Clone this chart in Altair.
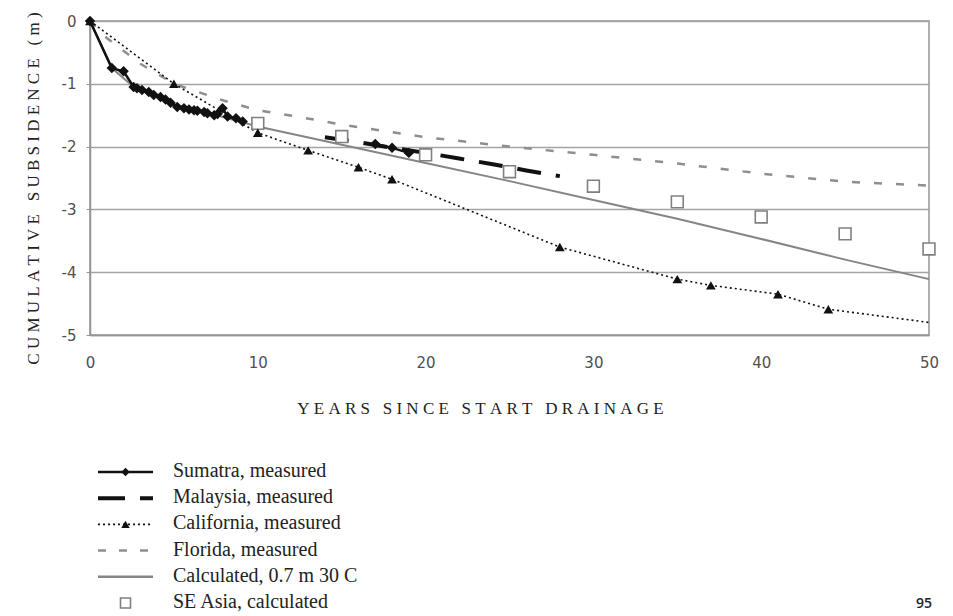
import altair as alt
import pandas as pd

# ---------------- data ----------------
sumatra_years = [0, 1.3, 2.0, 2.6, 2.8, 3.1, 3.5, 3.8, 4.2, 4.5, 4.8, 5.2, 5.6, 5.9,
                 6.2, 6.4, 6.8, 7.0, 7.4, 7.6, 7.9, 8.2, 8.7, 9.1]
sumatra_subs = [0, -0.75, -0.80, -1.05, -1.07, -1.10, -1.13, -1.18, -1.21, -1.25, -1.30,
                -1.37, -1.39, -1.41, -1.42, -1.43, -1.45, -1.47, -1.50, -1.48, -1.39,
                -1.52, -1.55, -1.60]
sumatra_late_years = [17, 18, 19]
sumatra_late_subs = [-1.96, -2.02, -2.10]

malaysia_years = [14, 16, 18, 20, 22, 24, 26, 28]
malaysia_subs = [-1.85, -1.93, -2.02, -2.10, -2.19, -2.28, -2.38, -2.47]

california_years = [0, 5, 10, 13, 16, 18, 28, 35, 37, 41, 44, 50]
california_subs = [0, -1.0, -1.78, -2.06, -2.33, -2.52, -3.60, -4.11, -4.21, -4.35, -4.59, -4.80]

florida_years = [0, 1, 3, 5, 8, 10, 12.5, 15, 18, 20, 25, 30, 35, 40, 45, 50]
florida_subs = [0, -0.27, -0.68, -1.0, -1.27, -1.42, -1.53, -1.65, -1.77, -1.85, -2.0,
                -2.13, -2.27, -2.43, -2.56, -2.62]

calc_years = [0, 1.3, 2.6, 5, 7, 10, 15, 20, 25, 30, 35, 40, 45, 50]
calc_subs = [0, -0.75, -1.05, -1.33, -1.46, -1.68, -1.97, -2.26, -2.55, -2.85,
             -3.15, -3.47, -3.80, -4.11]

seasia_years = [10, 15, 20, 25, 30, 35, 40, 45, 50]
seasia_subs = [-1.63, -1.84, -2.13, -2.40, -2.63, -2.88, -3.12, -3.39, -3.63]

x_ticks = [0, 10, 20, 30, 40, 50]
y_ticks = [0, -1, -2, -3, -4, -5]

legend_labels = ["Sumatra, measured", "Malaysia, measured", "California, measured",
                 "Florida, measured", "Calculated, 0.7 m 30 C", "SE Asia, calculated"]
page_number = ["95"]

x_title_text = "YEARS SINCE START DRAINAGE"
y_title_text = "CUMULATIVE SUBSIDENCE (m)"

# ---------------- helpers ----------------
SP = "\u2005"


def tracked(s):
    return (SP + " " + SP).join(SP.join(w) for w in s.split(" "))


def df(xs, ys):
    return pd.DataFrame({"x": xs, "y": ys})


W, H = 839, 314
GREY = "#959595"
INK = "#111111"

xscale = alt.Scale(domain=[0, 50], nice=False, zero=False)
yscale = alt.Scale(domain=[-5, 0], nice=False, zero=False)

xaxis = alt.Axis(values=x_ticks, grid=False, ticks=False, tickSize=0, labelPadding=20,
                 labelFont="DejaVu Sans", labelFontSize=15, labelColor="#505050",
                 domainColor=GREY, domainWidth=1.5, labelFlush=False,
                 title=tracked(x_title_text), titleFont="Liberation Serif",
                 titleFontSize=17, titleFontWeight="normal", titleColor="#222",
                 titleX=390, titleY=78, titleAlign="center", titleBaseline="alphabetic",
                 titleAngle=0)
yaxis = alt.Axis(values=y_ticks, grid=True, gridColor="#a4a4a4", gridWidth=1.5,
                 ticks=True, tickSize=4, tickColor=GREY, labelPadding=10,
                 labelFont="DejaVu Sans", labelFontSize=15, labelColor="#505050",
                 labelExpr="'' + datum.value", domainColor=GREY, domainWidth=1.5,
                 labelFlush=False,
                 title=tracked(y_title_text), titleFont="Liberation Serif",
                 titleFontSize=17, titleFontWeight="normal", titleColor="#222",
                 titleX=-52, titleY=167, titleAngle=270, titleAlign="center",
                 titleBaseline="alphabetic")


def enc():
    return dict(x=alt.X("x:Q", scale=xscale, axis=xaxis),
                y=alt.Y("y:Q", scale=yscale, axis=yaxis))


florida = alt.Chart(df(florida_years, florida_subs)).mark_line(
    color="#8e8e8e", strokeWidth=2.5, strokeDash=[8, 14]).encode(**enc())
calc = alt.Chart(df(calc_years, calc_subs)).mark_line(
    color="#858585", strokeWidth=2).encode(**enc())
cal_df = df(california_years, california_subs)
cal_line = alt.Chart(cal_df).mark_line(
    color=INK, strokeWidth=1.6, strokeDash=[2, 3]).encode(**enc())
cal_pts = alt.Chart(cal_df).transform_filter("datum.x < 50").mark_point(
    shape="triangle-up", filled=True, color=INK, size=95, opacity=1).encode(**enc())
malaysia = alt.Chart(df(malaysia_years, malaysia_subs)).mark_line(
    color=INK, strokeWidth=4, strokeDash=[24, 15]).encode(**enc())
sum_df = df(sumatra_years, sumatra_subs)
sum_late = df(sumatra_late_years, sumatra_late_subs)
sum_line = alt.Chart(sum_df).mark_line(color=INK, strokeWidth=2.5).encode(**enc())
sum_line2 = alt.Chart(sum_late).mark_line(color=INK, strokeWidth=2.5).encode(**enc())
sum_pts = alt.Chart(pd.concat([sum_df, sum_late])).mark_point(
    shape="diamond", filled=True, color=INK, size=110, opacity=1).encode(**enc())
seasia = alt.Chart(df(seasia_years, seasia_subs)).mark_point(
    shape="square", filled=True, fill="white", stroke="#808080", strokeWidth=1.6,
    size=140, opacity=1).encode(**enc())

main = alt.layer(florida, calc, cal_line, malaysia, sum_line, sum_line2, seasia,
                 cal_pts, sum_pts)

# ---------------- custom legend ----------------
leg_df = pd.DataFrame({"row": list(range(len(legend_labels))), "label": legend_labels,
                       "x0": 0.0, "x1": 1.0, "xm": 0.5})
lx = alt.Scale(domain=[0, 1], range=[8, 63])
ly = alt.Scale(domain=[0, 5], range=[451, 582])


def lenc(field="x0", with_x2=True):
    e = dict(x=alt.X(f"{field}:Q", scale=lx, axis=None),
             y=alt.Y("row:Q", scale=ly, axis=None))
    if with_x2:
        e["x2"] = alt.X2("x1")
    return e


def row(k):
    return alt.Chart(leg_df).transform_filter(f"datum.row == {k}")


leg_layers = [
    row(0).mark_rule(color=INK, strokeWidth=2.5).encode(**lenc()),
    row(0).mark_point(shape="diamond", filled=True, color=INK, size=70, opacity=1).encode(**lenc("xm", False)),
    row(1).mark_rule(color=INK, strokeWidth=4, strokeDash=[27, 15]).encode(**lenc()),
    row(2).mark_rule(color=INK, strokeWidth=1.6, strokeDash=[2, 3]).encode(**lenc()),
    row(2).mark_point(shape="triangle-up", filled=True, color=INK, size=70, opacity=1).encode(**lenc("xm", False)),
    row(3).mark_rule(color="#8e8e8e", strokeWidth=2.5, strokeDash=[8, 13]).encode(**lenc()),
    row(4).mark_rule(color="#858585", strokeWidth=2.5).encode(**lenc()),
    row(5).mark_point(shape="square", filled=True, fill="white", stroke="#808080",
                      strokeWidth=1.6, size=100, opacity=1).encode(**lenc("xm", False)),
    alt.Chart(leg_df).mark_text(align="left", baseline="alphabetic", dy=5,
                                font="Liberation Serif", fontSize=20, color="#222").encode(
        x=alt.value(83), y=alt.Y("row:Q", scale=ly, axis=None), text="label:N"),
    alt.Chart(pd.DataFrame({"t": page_number})).mark_text(
        align="center", baseline="alphabetic", font="Open Sans", fontSize=14,
        fontWeight=600, color="#222").encode(x=alt.value(834), y=alt.value(587), text="t:N"),
]
legend = alt.layer(*leg_layers)

chart = alt.layer(main, legend).resolve_scale(x="independent", y="independent").properties(
    width=W, height=H, autosize=alt.AutoSizeParams(type="none"),
    padding={"left": 82, "top": 13, "right": 16, "bottom": 280},
    background="white",
).configure_view(stroke=GREY, strokeWidth=1.5)

chart.save("out.html", embed_options={"renderer": "svg", "actions": False})
